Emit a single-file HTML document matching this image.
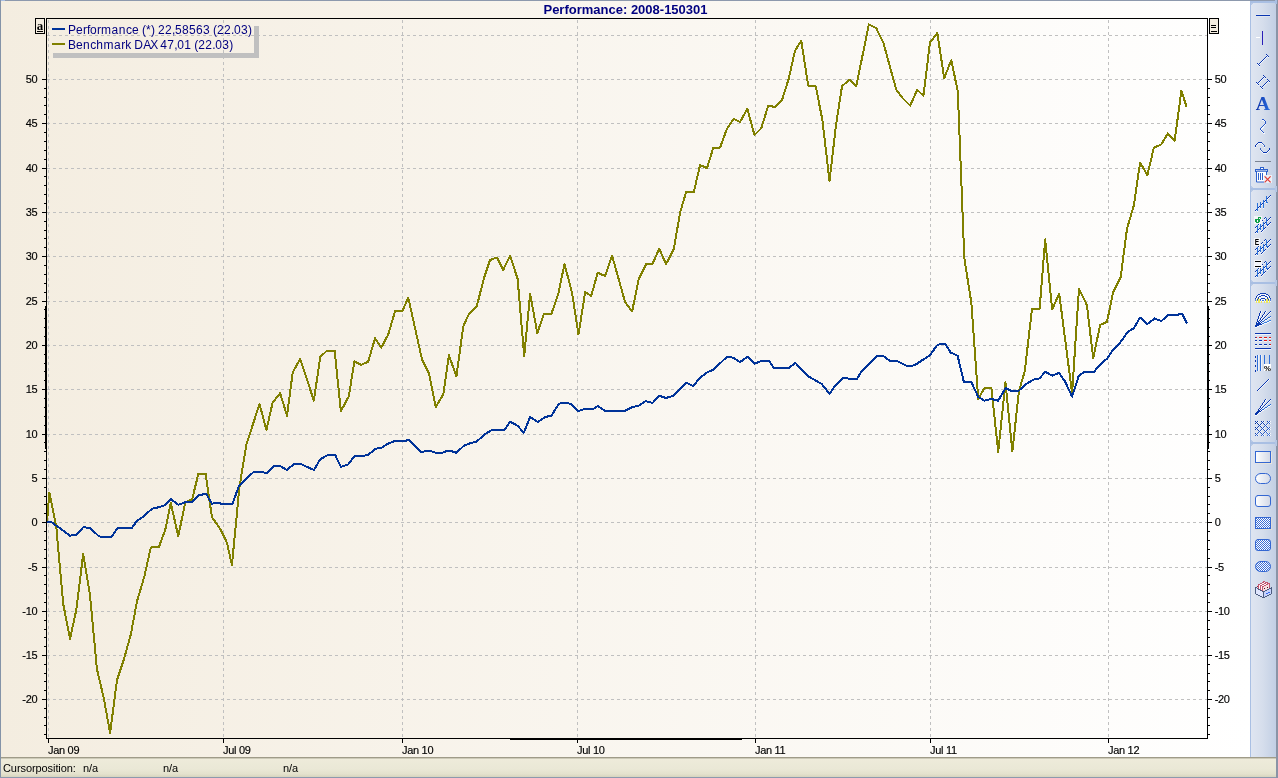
<!DOCTYPE html>
<html><head><meta charset="utf-8"><title>Performance: 2008-150301</title>
<style>
html,body{margin:0;padding:0;width:1278px;height:778px;overflow:hidden;background:#fff;}
body{position:relative;font-family:"Liberation Sans",Arial,sans-serif;}
#panel{position:absolute;left:0;top:0;width:1250px;height:757px;background:linear-gradient(to right,#f4ede0 0%,#ffffff 100%);}
#topb{position:absolute;left:0;top:0;width:1278px;height:1px;background:linear-gradient(to right,#a9bfe3 0,#a9bfe3 5px,#8d99ad 5px);}
#leftb{position:absolute;left:0;top:0;width:1px;height:778px;background:#8493a8;}
#rightb{position:absolute;left:1276px;top:0;width:2px;height:778px;background:#8a94a6;}
#botb{position:absolute;left:0;top:777px;width:1278px;height:1px;background:#8d99ad;}
#toolbar{position:absolute;left:1250px;top:1px;width:26px;height:756px;background:linear-gradient(to right,#dde4f0 0%,#d6deec 50%,#c3d0e4 100%);}
#status{position:absolute;left:1px;top:757px;width:1275px;height:20px;background:linear-gradient(to bottom,#9f9b88 0,#9f9b88 1px,#cdcab8 1px,#cdcab8 2px,#eeebda 2px,#eae8d6 12px,#e4e2cd 17px,#dbd9c3 19px,#d6d4be 20px);font-size:11px;color:#000;}
#status span{position:absolute;top:5px;white-space:nowrap;letter-spacing:-0.08px}
svg{position:absolute;left:0;top:0;}
</style></head><body>
<div id="panel"></div>
<div id="status"><span style="left:2px">Cursorposition:</span><span style="left:82px">n/a</span><span style="left:162px">n/a</span><span style="left:282px">n/a</span></div>
<div id="topb"></div><div id="leftb"></div><div id="botb"></div>
<svg width="1278" height="778" viewBox="0 0 1278 778" shape-rendering="crispEdges">
<g stroke="#c0c0c0" stroke-width="1" stroke-dasharray="3 3" fill="none">
<line x1="47" y1="35.5" x2="1207" y2="35.5"/>
<line x1="47" y1="79.5" x2="1207" y2="79.5"/>
<line x1="47" y1="123.5" x2="1207" y2="123.5"/>
<line x1="47" y1="168.5" x2="1207" y2="168.5"/>
<line x1="47" y1="212.5" x2="1207" y2="212.5"/>
<line x1="47" y1="256.5" x2="1207" y2="256.5"/>
<line x1="47" y1="301.5" x2="1207" y2="301.5"/>
<line x1="47" y1="345.5" x2="1207" y2="345.5"/>
<line x1="47" y1="389.5" x2="1207" y2="389.5"/>
<line x1="47" y1="434.5" x2="1207" y2="434.5"/>
<line x1="47" y1="478.5" x2="1207" y2="478.5"/>
<line x1="47" y1="522.5" x2="1207" y2="522.5"/>
<line x1="47" y1="567.5" x2="1207" y2="567.5"/>
<line x1="47" y1="611.5" x2="1207" y2="611.5"/>
<line x1="47" y1="655.5" x2="1207" y2="655.5"/>
<line x1="47" y1="699.5" x2="1207" y2="699.5"/>
<line x1="48.5" y1="20" x2="48.5" y2="738"/>
<line x1="223.5" y1="20" x2="223.5" y2="738"/>
<line x1="402.5" y1="20" x2="402.5" y2="738"/>
<line x1="577.5" y1="20" x2="577.5" y2="738"/>
<line x1="755.5" y1="20" x2="755.5" y2="738"/>
<line x1="930.5" y1="20" x2="930.5" y2="738"/>
<line x1="1108.5" y1="20" x2="1108.5" y2="738"/>
</g>
<polyline points="47.0,522.0 49.4,492.5 56.3,527.0 63.2,603.8 70.0,638.9 76.3,610.0 83.2,553.8 90.0,595.0 96.9,668.8 103.8,698.2 110.1,733.2 117.0,680.0 124.1,658.8 130.9,634.0 137.0,601.3 144.5,576.0 150.8,547.5 158.9,547.0 165.2,530.0 170.8,503.2 178.3,536.3 185.2,502.5 192.1,499.4 198.4,473.8 205.6,473.8 211.9,517.0 220.7,529.7 226.9,542.6 231.9,565.0 236.9,513.8 239.3,488.0 246.3,445.0 259.5,403.8 266.4,430.0 272.6,402.6 280.1,393.2 287.0,415.7 292.7,372.5 300.2,358.8 313.9,400.7 320.2,356.9 327.1,350.6 334.6,350.6 340.9,411.3 348.8,396.3 354.4,361.4 361.3,364.9 368.2,361.6 375.1,338.2 381.3,347.6 388.2,334.5 395.1,311.3 402.6,310.7 408.2,297.5 422.0,359.5 428.9,373.3 435.8,406.9 443.3,394.4 448.9,355.1 456.4,376.4 463.3,326.3 469.0,313.8 476.9,305.7 483.8,278.8 490.0,260.0 496.9,257.5 503.2,270.0 510.1,255.7 517.6,278.8 524.2,356.3 530.1,293.8 537.3,333.0 543.9,313.9 551.4,313.9 558.3,293.8 564.5,264.0 572.0,292.6 578.5,334.4 585.2,292.0 591.2,296.0 597.7,272.6 605.0,276.1 612.1,255.7 625.2,302.4 632.1,311.4 638.8,278.8 646.3,263.8 652.6,263.8 659.2,248.8 666.1,264.1 673.8,248.8 680.1,212.6 686.1,192.0 693.8,192.0 700.1,165.0 707.0,168.2 713.2,148.1 720.1,147.5 726.9,128.9 733.8,118.8 740.1,122.0 747.3,108.8 754.5,135.1 761.3,128.2 768.2,105.7 775.1,107.0 782.0,100.1 788.7,78.8 795.0,50.7 801.3,40.7 808.2,85.7 815.7,86.2 822.4,120.0 829.5,181.1 836.0,125.0 842.0,86.3 849.3,79.6 856.3,86.0 868.9,24.4 876.2,28.1 883.3,42.5 896.2,89.5 902.7,98.2 910.2,105.7 917.2,89.8 923.4,95.7 930.0,42.5 937.3,32.9 944.2,78.2 951.3,60.1 957.8,91.4 964.3,258.0 971.3,302.5 978.2,398.8 984.5,388.1 991.4,387.8 998.2,452.0 1005.5,382.5 1012.4,451.4 1018.9,391.3 1024.8,371.0 1032.0,308.8 1039.6,308.8 1045.2,239.4 1052.1,309.4 1059.2,293.8 1072.1,393.0 1079.0,288.8 1086.9,305.1 1093.2,358.2 1100.1,325.0 1107.0,321.9 1113.2,292.0 1120.7,277.0 1127.0,228.8 1133.9,205.1 1140.1,162.6 1147.4,175.1 1153.9,147.5 1161.4,144.4 1167.7,133.5 1174.6,141.0 1181.4,90.7 1186.4,106.3" fill="none" stroke="#808000" stroke-width="2" stroke-linejoin="round" stroke-linecap="round"/>
<polyline points="47.0,522.0 51.3,522.0 60.7,528.8 70.0,535.7 76.3,534.8 83.2,527.3 90.0,527.8 98.2,535.7 101.3,537.0 111.4,537.0 117.6,527.8 132.0,527.8 137.0,520.7 142.7,517.0 152.0,508.8 157.7,507.5 164.6,505.4 170.8,499.0 178.3,504.8 185.2,502.3 192.1,502.0 198.8,495.0 206.3,494.0 211.9,503.8 215.7,502.8 222.5,503.8 232.6,503.8 238.8,486.0 250.1,475.0 253.8,471.9 262.0,472.2 267.0,473.0 273.9,466.0 280.1,466.0 287.0,470.0 293.9,464.0 300.2,463.8 313.9,470.0 320.2,459.4 327.7,455.0 335.2,455.0 340.9,466.9 348.1,464.5 354.4,456.1 363.8,455.7 368.2,454.8 375.7,448.8 381.9,447.6 386.3,444.5 393.8,441.3 404.5,441.1 408.8,439.8 421.4,452.0 426.4,451.1 430.8,451.1 435.8,452.8 442.0,452.8 446.4,451.1 451.4,451.1 456.4,452.8 463.9,445.7 470.2,443.2 476.4,441.7 484.6,434.5 491.5,430.1 504.4,430.1 510.0,421.6 517.6,425.7 523.8,432.8 530.1,417.0 537.6,422.0 545.1,417.0 551.4,415.7 558.9,403.8 563.9,402.8 570.8,403.8 578.3,411.1 583.9,409.1 593.3,409.1 597.7,405.9 604.6,410.7 625.2,410.7 632.5,407.0 638.8,405.7 645.7,401.1 652.6,403.0 659.2,395.7 666.1,398.0 673.2,395.7 686.4,382.6 693.2,386.0 700.1,377.6 707.6,372.2 713.3,369.8 727.0,356.7 733.3,357.8 739.9,362.2 747.4,356.7 754.6,363.8 761.5,360.9 769.0,360.9 773.7,367.9 788.8,367.9 795.4,362.9 805.7,373.8 809.4,377.0 822.0,384.2 829.5,394.1 835.1,385.7 843.2,377.8 850.1,378.8 857.0,378.8 862.0,370.7 877.0,356.0 883.3,356.0 889.6,360.7 896.5,360.9 906.5,365.7 912.1,365.9 915.9,364.4 930.0,355.1 936.9,345.5 940.7,343.8 945.0,343.8 950.7,352.6 957.6,355.7 963.8,381.7 971.3,381.9 978.2,396.9 984.5,400.7 991.4,399.0 998.2,400.7 1005.5,388.1 1010.8,390.6 1018.9,390.6 1026.4,383.8 1033.3,379.7 1039.6,378.3 1045.2,371.8 1052.1,375.6 1059.0,372.9 1065.0,381.4 1072.1,396.6 1078.8,375.7 1085.0,371.7 1094.4,371.7 1097.6,367.0 1102.6,362.0 1107.0,358.8 1113.8,348.8 1120.7,341.9 1127.6,331.9 1133.9,328.2 1140.1,317.5 1147.4,324.0 1154.5,318.5 1161.4,321.0 1168.3,314.8 1177.1,314.8 1182.1,313.8 1186.5,322.5" fill="none" stroke="#003399" stroke-width="2" stroke-linejoin="round" stroke-linecap="round"/>
<g fill="#000">
<rect x="46" y="18" width="1162" height="1"/>
<rect x="46" y="738" width="1162" height="1"/>
<rect x="46" y="18" width="1" height="721"/>
<rect x="1207" y="18" width="1" height="721"/>
<rect x="510" y="738" width="232" height="2"/>
<rect x="45" y="306" width="2" height="143"/>
<rect x="1207" y="306" width="2" height="143"/>
<rect x="44" y="734" width="2" height="1"/><rect x="1208" y="734" width="2" height="1"/>
<rect x="44" y="725" width="2" height="1"/><rect x="1208" y="725" width="2" height="1"/>
<rect x="44" y="717" width="2" height="1"/><rect x="1208" y="717" width="2" height="1"/>
<rect x="44" y="708" width="2" height="1"/><rect x="1208" y="708" width="2" height="1"/>
<rect x="42" y="699" width="4" height="1"/><rect x="1208" y="699" width="4" height="1"/>
<rect x="44" y="690" width="2" height="1"/><rect x="1208" y="690" width="2" height="1"/>
<rect x="44" y="681" width="2" height="1"/><rect x="1208" y="681" width="2" height="1"/>
<rect x="44" y="673" width="2" height="1"/><rect x="1208" y="673" width="2" height="1"/>
<rect x="44" y="664" width="2" height="1"/><rect x="1208" y="664" width="2" height="1"/>
<rect x="42" y="655" width="4" height="1"/><rect x="1208" y="655" width="4" height="1"/>
<rect x="44" y="646" width="2" height="1"/><rect x="1208" y="646" width="2" height="1"/>
<rect x="44" y="637" width="2" height="1"/><rect x="1208" y="637" width="2" height="1"/>
<rect x="44" y="629" width="2" height="1"/><rect x="1208" y="629" width="2" height="1"/>
<rect x="44" y="620" width="2" height="1"/><rect x="1208" y="620" width="2" height="1"/>
<rect x="42" y="611" width="4" height="1"/><rect x="1208" y="611" width="4" height="1"/>
<rect x="44" y="602" width="2" height="1"/><rect x="1208" y="602" width="2" height="1"/>
<rect x="44" y="593" width="2" height="1"/><rect x="1208" y="593" width="2" height="1"/>
<rect x="44" y="584" width="2" height="1"/><rect x="1208" y="584" width="2" height="1"/>
<rect x="44" y="575" width="2" height="1"/><rect x="1208" y="575" width="2" height="1"/>
<rect x="42" y="567" width="4" height="1"/><rect x="1208" y="567" width="4" height="1"/>
<rect x="44" y="558" width="2" height="1"/><rect x="1208" y="558" width="2" height="1"/>
<rect x="44" y="549" width="2" height="1"/><rect x="1208" y="549" width="2" height="1"/>
<rect x="44" y="540" width="2" height="1"/><rect x="1208" y="540" width="2" height="1"/>
<rect x="44" y="531" width="2" height="1"/><rect x="1208" y="531" width="2" height="1"/>
<rect x="42" y="522" width="4" height="1"/><rect x="1208" y="522" width="4" height="1"/>
<rect x="44" y="513" width="2" height="1"/><rect x="1208" y="513" width="2" height="1"/>
<rect x="44" y="504" width="2" height="1"/><rect x="1208" y="504" width="2" height="1"/>
<rect x="44" y="496" width="2" height="1"/><rect x="1208" y="496" width="2" height="1"/>
<rect x="44" y="487" width="2" height="1"/><rect x="1208" y="487" width="2" height="1"/>
<rect x="42" y="478" width="4" height="1"/><rect x="1208" y="478" width="4" height="1"/>
<rect x="44" y="469" width="2" height="1"/><rect x="1208" y="469" width="2" height="1"/>
<rect x="44" y="460" width="2" height="1"/><rect x="1208" y="460" width="2" height="1"/>
<rect x="44" y="451" width="2" height="1"/><rect x="1208" y="451" width="2" height="1"/>
<rect x="44" y="442" width="2" height="1"/><rect x="1208" y="442" width="2" height="1"/>
<rect x="42" y="434" width="4" height="1"/><rect x="1208" y="434" width="4" height="1"/>
<rect x="44" y="425" width="2" height="1"/><rect x="1208" y="425" width="2" height="1"/>
<rect x="44" y="416" width="2" height="1"/><rect x="1208" y="416" width="2" height="1"/>
<rect x="44" y="407" width="2" height="1"/><rect x="1208" y="407" width="2" height="1"/>
<rect x="44" y="398" width="2" height="1"/><rect x="1208" y="398" width="2" height="1"/>
<rect x="42" y="389" width="4" height="1"/><rect x="1208" y="389" width="4" height="1"/>
<rect x="44" y="380" width="2" height="1"/><rect x="1208" y="380" width="2" height="1"/>
<rect x="44" y="371" width="2" height="1"/><rect x="1208" y="371" width="2" height="1"/>
<rect x="44" y="363" width="2" height="1"/><rect x="1208" y="363" width="2" height="1"/>
<rect x="44" y="354" width="2" height="1"/><rect x="1208" y="354" width="2" height="1"/>
<rect x="42" y="345" width="4" height="1"/><rect x="1208" y="345" width="4" height="1"/>
<rect x="44" y="336" width="2" height="1"/><rect x="1208" y="336" width="2" height="1"/>
<rect x="44" y="327" width="2" height="1"/><rect x="1208" y="327" width="2" height="1"/>
<rect x="44" y="318" width="2" height="1"/><rect x="1208" y="318" width="2" height="1"/>
<rect x="44" y="309" width="2" height="1"/><rect x="1208" y="309" width="2" height="1"/>
<rect x="42" y="301" width="4" height="1"/><rect x="1208" y="301" width="4" height="1"/>
<rect x="44" y="292" width="2" height="1"/><rect x="1208" y="292" width="2" height="1"/>
<rect x="44" y="283" width="2" height="1"/><rect x="1208" y="283" width="2" height="1"/>
<rect x="44" y="274" width="2" height="1"/><rect x="1208" y="274" width="2" height="1"/>
<rect x="44" y="265" width="2" height="1"/><rect x="1208" y="265" width="2" height="1"/>
<rect x="42" y="256" width="4" height="1"/><rect x="1208" y="256" width="4" height="1"/>
<rect x="44" y="247" width="2" height="1"/><rect x="1208" y="247" width="2" height="1"/>
<rect x="44" y="238" width="2" height="1"/><rect x="1208" y="238" width="2" height="1"/>
<rect x="44" y="230" width="2" height="1"/><rect x="1208" y="230" width="2" height="1"/>
<rect x="44" y="221" width="2" height="1"/><rect x="1208" y="221" width="2" height="1"/>
<rect x="42" y="212" width="4" height="1"/><rect x="1208" y="212" width="4" height="1"/>
<rect x="44" y="203" width="2" height="1"/><rect x="1208" y="203" width="2" height="1"/>
<rect x="44" y="194" width="2" height="1"/><rect x="1208" y="194" width="2" height="1"/>
<rect x="44" y="185" width="2" height="1"/><rect x="1208" y="185" width="2" height="1"/>
<rect x="44" y="176" width="2" height="1"/><rect x="1208" y="176" width="2" height="1"/>
<rect x="42" y="168" width="4" height="1"/><rect x="1208" y="168" width="4" height="1"/>
<rect x="44" y="159" width="2" height="1"/><rect x="1208" y="159" width="2" height="1"/>
<rect x="44" y="150" width="2" height="1"/><rect x="1208" y="150" width="2" height="1"/>
<rect x="44" y="141" width="2" height="1"/><rect x="1208" y="141" width="2" height="1"/>
<rect x="44" y="132" width="2" height="1"/><rect x="1208" y="132" width="2" height="1"/>
<rect x="42" y="123" width="4" height="1"/><rect x="1208" y="123" width="4" height="1"/>
<rect x="44" y="114" width="2" height="1"/><rect x="1208" y="114" width="2" height="1"/>
<rect x="44" y="105" width="2" height="1"/><rect x="1208" y="105" width="2" height="1"/>
<rect x="44" y="97" width="2" height="1"/><rect x="1208" y="97" width="2" height="1"/>
<rect x="44" y="88" width="2" height="1"/><rect x="1208" y="88" width="2" height="1"/>
<rect x="42" y="79" width="4" height="1"/><rect x="1208" y="79" width="4" height="1"/>
<rect x="48" y="739" width="1" height="4"/>
<rect x="223" y="739" width="1" height="4"/>
<rect x="402" y="739" width="1" height="4"/>
<rect x="577" y="739" width="1" height="4"/>
<rect x="755" y="739" width="1" height="4"/>
<rect x="930" y="739" width="1" height="4"/>
<rect x="1108" y="739" width="1" height="4"/>
</g>
<g font-family="'Liberation Sans', Arial, sans-serif" font-size="11" fill="#000" stroke="#000" stroke-width="0.15" letter-spacing="-0.3">
<text x="37.3" y="83" text-anchor="end">50</text>
<text x="1214.7" y="83">50</text>
<text x="37.3" y="127" text-anchor="end">45</text>
<text x="1214.7" y="127">45</text>
<text x="37.3" y="172" text-anchor="end">40</text>
<text x="1214.7" y="172">40</text>
<text x="37.3" y="216" text-anchor="end">35</text>
<text x="1214.7" y="216">35</text>
<text x="37.3" y="260" text-anchor="end">30</text>
<text x="1214.7" y="260">30</text>
<text x="37.3" y="305" text-anchor="end">25</text>
<text x="1214.7" y="305">25</text>
<text x="37.3" y="349" text-anchor="end">20</text>
<text x="1214.7" y="349">20</text>
<text x="37.3" y="393" text-anchor="end">15</text>
<text x="1214.7" y="393">15</text>
<text x="37.3" y="438" text-anchor="end">10</text>
<text x="1214.7" y="438">10</text>
<text x="37.3" y="482" text-anchor="end">5</text>
<text x="1214.7" y="482">5</text>
<text x="37.3" y="526" text-anchor="end">0</text>
<text x="1214.7" y="526">0</text>
<text x="37.3" y="571" text-anchor="end">-5</text>
<text x="1214.7" y="571">-5</text>
<text x="37.3" y="615" text-anchor="end">-10</text>
<text x="1214.7" y="615">-10</text>
<text x="37.3" y="659" text-anchor="end">-15</text>
<text x="1214.7" y="659">-15</text>
<text x="37.3" y="703" text-anchor="end">-20</text>
<text x="1214.7" y="703">-20</text>
<text x="48" y="754">Jan 09</text>
<text x="223" y="754">Jul 09</text>
<text x="402" y="754">Jan 10</text>
<text x="577" y="754">Jul 10</text>
<text x="755" y="754">Jan 11</text>
<text x="930" y="754">Jul 11</text>
<text x="1108" y="754">Jan 12</text>
</g>
<text x="625.5" y="14" text-anchor="middle" font-family="'Liberation Sans', Arial, sans-serif" font-size="13" font-weight="bold" fill="#000080">Performance: 2008-150301</text>
<g>
<rect x="254" y="26" width="5" height="32" fill="#c0c0c0"/><rect x="53" y="53" width="206" height="5" fill="#c0c0c0"/>
<rect x="52" y="28" width="13" height="2" fill="#003399"/><rect x="52" y="43" width="13" height="2" fill="#808000"/>
<g font-family="'Liberation Sans', Arial, sans-serif" font-size="12" fill="#000080">
<text x="68 76 83 87 90 97 101 111.4 118.7 126.0 132.0 139.0 142.0 146.0 151.0 155.0 158.0 165.0 172.0 175.0 182.0 189.0 196.0 203.0 210.0 213.0 217.0 224.0 231.0 234.0 241.0 248.0" y="34">Performance (*) 22,58563 (22.03)</text>
<text x="68 76 83 90.3 96.3 103.6 114.0 121.3 125.3 131.3 134.3 143.3 150.3 157.3 160.3 167.3 174.3 177.3 184.3 191.3 194.3 198.3 205.3 212.3 215.3 222.3 229.3" y="49">Benchmark DAX 47,01 (22.03)</text>
</g></g>
<g><rect x="35.5" y="18.5" width="9" height="15" fill="none" stroke="#000"/>
<text x="40" y="30" text-anchor="middle" font-family="'Liberation Serif', serif" font-weight="bold" font-size="13" fill="#000">a</text><rect x="37" y="31" width="6" height="1" fill="#000"/>
<rect x="1209.5" y="18.5" width="9" height="15" fill="#f4ede0" stroke="#000"/>
<rect x="1211" y="25" width="5" height="1" fill="#000"/><rect x="1211" y="27" width="5" height="1" fill="#000"/><rect x="1211" y="31" width="6" height="1" fill="#000"/></g>
<defs>
<linearGradient id="tbg" x1="0" y1="0" x2="1" y2="0"><stop offset="0" stop-color="#dfe5f1"/><stop offset="0.45" stop-color="#d6deec"/><stop offset="1" stop-color="#c2cfe4"/></linearGradient>
<linearGradient id="shp" x1="0" y1="0" x2="1" y2="0"><stop offset="0" stop-color="#ffffff"/><stop offset="1" stop-color="#d2d8e6"/></linearGradient>
<pattern id="chk" x="0" y="0" width="2" height="2" patternUnits="userSpaceOnUse"><rect width="2" height="2" fill="#ffffff"/><rect x="0" y="0" width="1" height="1" fill="#3d6fd6"/><rect x="1" y="1" width="1" height="1" fill="#3d6fd6"/></pattern>
</defs>
<g shape-rendering="crispEdges">
<rect x="1250" y="1" width="26" height="756" fill="#a9bfe3"/>
<rect x="1251" y="3" width="25" height="185" fill="url(#tbg)"/>
<rect x="1251" y="3" width="2" height="1" fill="#b9cae6"/><rect x="1251" y="4" width="1" height="1" fill="#b9cae6"/>
<rect x="1251" y="187" width="2" height="1" fill="#b9cae6"/><rect x="1251" y="186" width="1" height="1" fill="#b9cae6"/>
<rect x="1251" y="190" width="25" height="92" fill="url(#tbg)"/>
<rect x="1251" y="190" width="2" height="1" fill="#b9cae6"/><rect x="1251" y="191" width="1" height="1" fill="#b9cae6"/>
<rect x="1251" y="281" width="2" height="1" fill="#b9cae6"/><rect x="1251" y="280" width="1" height="1" fill="#b9cae6"/>
<rect x="1251" y="284" width="25" height="158" fill="url(#tbg)"/>
<rect x="1251" y="284" width="2" height="1" fill="#b9cae6"/><rect x="1251" y="285" width="1" height="1" fill="#b9cae6"/>
<rect x="1251" y="441" width="2" height="1" fill="#b9cae6"/><rect x="1251" y="440" width="1" height="1" fill="#b9cae6"/>
<rect x="1251" y="444" width="25" height="313" fill="url(#tbg)"/>
<rect x="1251" y="444" width="2" height="1" fill="#b9cae6"/><rect x="1251" y="445" width="1" height="1" fill="#b9cae6"/>
<rect x="1276" y="0" width="2" height="778" fill="#8a94a6"/>
<rect x="1275" y="186" width="2" height="6" fill="#b4c6e4"/>
<rect x="1275" y="280" width="2" height="6" fill="#b4c6e4"/>
<rect x="1275" y="440" width="2" height="6" fill="#b4c6e4"/>
<rect x="1275" y="0" width="2" height="4" fill="#a9bfe3"/>
<rect x="1256" y="15" width="14" height="1" fill="#0a36b0"/>
<rect x="1256" y="14" width="14" height="1" fill="#e4e9f4" opacity="0.7"/><rect x="1256" y="16" width="14" height="1" fill="#e4e9f4" opacity="0.7"/>
<rect x="1256" y="37" width="4" height="1" fill="#ffffff"/>
<rect x="1262" y="31" width="1" height="14" fill="#2a1fb8"/>
<rect x="1255" y="161" width="16" height="1" fill="#7b8494"/>
<rect x="1255" y="333" width="16" height="1" fill="#0a36b0"/><rect x="1255" y="334" width="16" height="1" fill="#f4f6fb"/>
<rect x="1255" y="348" width="16" height="1" fill="#0a36b0"/><rect x="1255" y="349" width="16" height="1" fill="#f4f6fb"/>
<rect x="1255" y="337" width="1" height="1" fill="#0a36b0"/><rect x="1255" y="338" width="1" height="1" fill="#f4f6fb"/>
<rect x="1256" y="337" width="1" height="1" fill="#e01818"/><rect x="1256" y="338" width="1" height="1" fill="#f4f6fb"/>
<rect x="1259" y="337" width="3" height="1" fill="#e01818"/><rect x="1259" y="338" width="3" height="1" fill="#f4f6fb"/>
<rect x="1264" y="337" width="3" height="1" fill="#e01818"/><rect x="1264" y="338" width="3" height="1" fill="#f4f6fb"/>
<rect x="1269" y="337" width="2" height="1" fill="#e01818"/><rect x="1269" y="338" width="2" height="1" fill="#f4f6fb"/>
<rect x="1255" y="340" width="2" height="1" fill="#0a36b0"/><rect x="1255" y="341" width="2" height="1" fill="#f4f6fb"/>
<rect x="1259" y="340" width="3" height="1" fill="#0a36b0"/><rect x="1259" y="341" width="3" height="1" fill="#f4f6fb"/>
<rect x="1264" y="340" width="3" height="1" fill="#e01818"/><rect x="1264" y="341" width="3" height="1" fill="#f4f6fb"/>
<rect x="1269" y="340" width="2" height="1" fill="#e01818"/><rect x="1269" y="341" width="2" height="1" fill="#f4f6fb"/>
<rect x="1255" y="344" width="2" height="1" fill="#0a36b0"/><rect x="1255" y="345" width="2" height="1" fill="#f4f6fb"/>
<rect x="1259" y="344" width="3" height="1" fill="#0a36b0"/><rect x="1259" y="345" width="3" height="1" fill="#f4f6fb"/>
<rect x="1264" y="344" width="3" height="1" fill="#0a36b0"/><rect x="1264" y="345" width="3" height="1" fill="#f4f6fb"/>
<rect x="1269" y="344" width="1" height="1" fill="#0a36b0"/><rect x="1269" y="345" width="1" height="1" fill="#f4f6fb"/>
<rect x="1270" y="344" width="1" height="1" fill="#e01818"/><rect x="1270" y="345" width="1" height="1" fill="#f4f6fb"/>
<rect x="1255" y="356" width="1" height="1.6" fill="#0a36b0"/>
<rect x="1255" y="360" width="1" height="1.6" fill="#0a36b0"/>
<rect x="1255" y="365" width="1" height="1.6" fill="#0a36b0"/>
<rect x="1255" y="370" width="1" height="1.6" fill="#0a36b0"/>
<rect x="1257" y="355" width="1" height="16" fill="#2f6fd8"/><rect x="1260" y="355" width="1" height="16" fill="#2f6fd8"/>
<rect x="1264" y="355" width="1" height="9" fill="#2f6fd8"/><rect x="1269" y="355" width="1" height="9" fill="#2f6fd8"/>
<rect x="1258" y="355" width="1" height="16" fill="#eef1f8"/><rect x="1261" y="355" width="1" height="16" fill="#eef1f8"/>
<rect x="1264" y="364" width="7" height="7" fill="#ffffff"/>
</g>
<g shape-rendering="auto" fill="none" stroke-linecap="square">
<text x="1263.9" y="370.6" textLength="7" lengthAdjust="spacingAndGlyphs" font-family="'Liberation Sans', Arial, sans-serif" font-weight="bold" font-size="8" fill="#000" stroke="none">%</text>
<path d="M1257 64h1v1h-1z M1258 65h1v1h-1z M1259 66h1v1h-1z M1258 65h1v1h-1z M1259 64h1v1h-1z M1260 63h1v1h-1z M1261 62h1v1h-1z M1262 61h1v1h-1z M1263 60h1v1h-1z M1264 59h1v1h-1z M1265 58h1v1h-1z M1266 57h1v1h-1z M1267 56h1v1h-1z M1266 55h1v1h-1z M1267 56h1v1h-1z M1268 57h1v1h-1z" fill="#f6f8fc" stroke="none" shape-rendering="crispEdges"/>
<path d="M1257 63h1v1h-1z M1258 64h1v1h-1z M1259 65h1v1h-1z M1258 64h1v1h-1z M1259 63h1v1h-1z M1260 62h1v1h-1z M1261 61h1v1h-1z M1262 60h1v1h-1z M1263 59h1v1h-1z M1264 58h1v1h-1z M1265 57h1v1h-1z M1266 56h1v1h-1z M1267 55h1v1h-1z M1266 54h1v1h-1z M1267 55h1v1h-1z M1268 56h1v1h-1z" fill="#0a36b0" stroke="none" shape-rendering="crispEdges"/>
<path d="M1256 83h1v1h-1z M1257 84h1v1h-1z M1258 85h1v1h-1z M1257 84h1v1h-1z M1258 83h1v1h-1z M1259 82h1v1h-1z M1260 81h1v1h-1z M1261 80h1v1h-1z M1262 79h1v1h-1z M1263 78h1v1h-1z M1264 77h1v1h-1z M1263 76h1v1h-1z M1264 77h1v1h-1z M1265 78h1v1h-1z M1260 87h1v1h-1z M1261 88h1v1h-1z M1262 89h1v1h-1z M1261 88h1v1h-1z M1262 87h1v1h-1z M1263 86h1v1h-1z M1264 85h1v1h-1z M1265 84h1v1h-1z M1266 83h1v1h-1z M1267 82h1v1h-1z M1268 81h1v1h-1z M1267 80h1v1h-1z M1268 81h1v1h-1z M1269 82h1v1h-1z" fill="#f6f8fc" stroke="none" shape-rendering="crispEdges"/>
<path d="M1256 82h1v1h-1z M1257 83h1v1h-1z M1258 84h1v1h-1z M1257 83h1v1h-1z M1258 82h1v1h-1z M1259 81h1v1h-1z M1260 80h1v1h-1z M1261 79h1v1h-1z M1262 78h1v1h-1z M1263 77h1v1h-1z M1264 76h1v1h-1z M1263 75h1v1h-1z M1264 76h1v1h-1z M1265 77h1v1h-1z M1260 86h1v1h-1z M1261 87h1v1h-1z M1262 88h1v1h-1z M1261 87h1v1h-1z M1262 86h1v1h-1z M1263 85h1v1h-1z M1264 84h1v1h-1z M1265 83h1v1h-1z M1266 82h1v1h-1z M1267 81h1v1h-1z M1268 80h1v1h-1z M1267 79h1v1h-1z M1268 80h1v1h-1z M1269 81h1v1h-1z" fill="#0a36b0" stroke="none" shape-rendering="crispEdges"/>
<linearGradient id="ag" x1="0" y1="0" x2="1" y2="0"><stop offset="0" stop-color="#0a2ea6"/><stop offset="1" stop-color="#2a6ee0"/></linearGradient>
<text x="1255.8" y="110" textLength="14.2" lengthAdjust="spacingAndGlyphs" font-family="'Liberation Serif', 'DejaVu Serif', serif" font-weight="bold" font-size="18" fill="url(#ag)" stroke="none">A</text>
<path d="M1262 120h1v1h-1z M1263 120h1v1h-1z M1264 121h1v1h-1z M1265 122h1v1h-1z M1265 123h1v1h-1z M1265 124h1v1h-1z M1264 125h1v1h-1z M1263 126h1v1h-1z M1262 127h1v1h-1z M1261 128h1v1h-1z M1260 129h1v1h-1z M1260 130h1v1h-1z M1261 131h1v1h-1z M1262 132h1v1h-1z M1263 133h1v1h-1z M1263 127h1v1h-1z M1262 128h1v1h-1z M1261 129h1v1h-1z M1261 130h1v1h-1z M1262 131h1v1h-1z M1263 132h1v1h-1z M1264 133h1v1h-1z" fill="#f6f8fc" stroke="none" shape-rendering="crispEdges"/>
<path d="M1262 119h1v1h-1z M1263 119h1v1h-1z M1264 120h1v1h-1z M1265 121h1v1h-1z M1265 122h1v1h-1z M1265 123h1v1h-1z M1264 124h1v1h-1z M1263 125h1v1h-1z M1262 126h1v1h-1z M1261 127h1v1h-1z M1260 128h1v1h-1z M1260 129h1v1h-1z M1261 130h1v1h-1z M1262 131h1v1h-1z M1263 132h1v1h-1z" fill="#2456c8" stroke="none" shape-rendering="crispEdges"/>
<path d="M1255 146h1v1h-1z M1255 147h1v1h-1z M1256 145h1v1h-1z M1257 144h1v1h-1z M1258 143h1v1h-1z M1259 143h1v1h-1z M1260 143h1v1h-1z M1261 143h1v1h-1z M1262 144h1v1h-1z M1263 145h1v1h-1z M1264 146h1v1h-1z M1264 147h1v1h-1z M1260 149h1v1h-1z M1260 150h1v1h-1z M1261 151h1v1h-1z M1262 152h1v1h-1z M1263 153h1v1h-1z M1264 153h1v1h-1z M1265 153h1v1h-1z M1266 153h1v1h-1z M1267 152h1v1h-1z M1268 151h1v1h-1z M1269 149h1v1h-1z M1269 150h1v1h-1z" fill="#f6f8fc" stroke="none" shape-rendering="crispEdges"/>
<path d="M1255 145h1v1h-1z M1255 146h1v1h-1z M1256 144h1v1h-1z M1257 143h1v1h-1z M1258 142h1v1h-1z M1259 142h1v1h-1z M1260 142h1v1h-1z M1261 142h1v1h-1z M1263 152h1v1h-1z M1264 152h1v1h-1z M1265 152h1v1h-1z M1266 152h1v1h-1z M1267 151h1v1h-1z M1268 150h1v1h-1z M1269 148h1v1h-1z M1269 149h1v1h-1z" fill="#0a36b0" stroke="none" shape-rendering="crispEdges"/>
<path d="M1262 143h1v1h-1z M1263 144h1v1h-1z M1264 145h1v1h-1z M1264 146h1v1h-1z M1260 148h1v1h-1z M1260 149h1v1h-1z M1261 150h1v1h-1z M1262 151h1v1h-1z" fill="#3a64c4" stroke="none" shape-rendering="crispEdges"/>
<rect x="1260.5" y="167.5" width="3" height="2" fill="#fff" stroke="#2f62cc" stroke-width="1"/>
<rect x="1255.5" y="169.5" width="12" height="2" fill="#fff" stroke="#2f62cc" stroke-width="1"/>
<path d="M1256.5 171.5 L1256.5 182 L1266.5 182 L1266.5 171.5 Z" fill="#fff" stroke="#2f62cc" stroke-width="1"/>
<path d="M1258.5 173 V180 M1260.5 173 V180 M1262.5 173 V180" stroke="#2f62cc" stroke-width="1" stroke-linecap="butt" shape-rendering="crispEdges"/>
<rect x="1264" y="175" width="8" height="8" fill="#eef1f8" opacity="0.95" stroke="none"/>
<path d="M1264.6 176.3 L1270.6 182.3 M1270.6 176.3 L1264.6 182.3" stroke="#e23a32" stroke-width="1.2" stroke-linecap="butt"/>
<path d="M1255 211h1v1h-1z M1256 210h1v1h-1z M1258 208h1v1h-1z M1259 207h1v1h-1z M1261 205h1v1h-1z M1262 204h1v1h-1z M1264 202h1v1h-1z M1265 201h1v1h-1z M1267 199h1v1h-1z M1268 198h1v1h-1z M1269 197h1v1h-1z M1270 196h1v1h-1z" fill="#f6f8fc" stroke="none" shape-rendering="crispEdges"/>
<path d="M1257 211h1v1h-1z M1260 208h1v1h-1z M1263 208h1v1h-1z M1266 203h1v1h-1z" fill="#f6f8fc" stroke="none" shape-rendering="crispEdges"/>
<path d="M1257 203h1v1h-1z M1257 204h1v1h-1z M1257 205h1v1h-1z M1257 206h1v1h-1z M1257 207h1v1h-1z M1257 208h1v1h-1z M1257 209h1v1h-1z M1257 210h1v1h-1z M1260 202h1v1h-1z M1260 203h1v1h-1z M1260 204h1v1h-1z M1260 205h1v1h-1z M1260 206h1v1h-1z M1260 207h1v1h-1z M1263 200h1v1h-1z M1263 201h1v1h-1z M1263 202h1v1h-1z M1263 203h1v1h-1z M1263 204h1v1h-1z M1263 205h1v1h-1z M1263 206h1v1h-1z M1263 207h1v1h-1z M1266 196h1v1h-1z M1266 197h1v1h-1z M1266 198h1v1h-1z M1266 199h1v1h-1z M1266 200h1v1h-1z M1266 201h1v1h-1z M1266 202h1v1h-1z" fill="#2a72da" stroke="none" shape-rendering="crispEdges"/>
<path d="M1267 202h1v1h-1z" fill="#2a72da" stroke="none" shape-rendering="crispEdges"/>
<path d="M1255 210h1v1h-1z M1256 209h1v1h-1z M1258 207h1v1h-1z M1259 206h1v1h-1z M1261 204h1v1h-1z M1262 203h1v1h-1z M1264 201h1v1h-1z M1265 200h1v1h-1z M1267 198h1v1h-1z M1268 197h1v1h-1z M1269 196h1v1h-1z M1270 195h1v1h-1z" fill="#0a36b0" stroke="none" shape-rendering="crispEdges"/>
<path d="M1255 233h1v1h-1z M1256 232h1v1h-1z M1258 230h1v1h-1z M1259 229h1v1h-1z M1261 227h1v1h-1z M1262 226h1v1h-1z M1264 224h1v1h-1z M1265 223h1v1h-1z M1267 221h1v1h-1z M1268 220h1v1h-1z M1269 219h1v1h-1z M1270 218h1v1h-1z M1255 228h1v1h-1z M1256 227h1v1h-1z M1258 225h1v1h-1z M1259 224h1v1h-1z M1261 222h1v1h-1z M1262 221h1v1h-1z M1264 219h1v1h-1z M1265 218h1v1h-1z M1261 232h1v1h-1z M1262 231h1v1h-1z M1264 229h1v1h-1z M1265 228h1v1h-1z M1267 226h1v1h-1z M1268 225h1v1h-1z M1269 224h1v1h-1z M1270 223h1v1h-1z" fill="#f6f8fc" stroke="none" shape-rendering="crispEdges"/>
<path d="M1257 233h1v1h-1z M1260 230h1v1h-1z M1263 230h1v1h-1z M1266 225h1v1h-1z" fill="#f6f8fc" stroke="none" shape-rendering="crispEdges"/>
<path d="M1257 225h1v1h-1z M1257 226h1v1h-1z M1257 227h1v1h-1z M1257 228h1v1h-1z M1257 229h1v1h-1z M1257 230h1v1h-1z M1257 231h1v1h-1z M1257 232h1v1h-1z M1260 224h1v1h-1z M1260 225h1v1h-1z M1260 226h1v1h-1z M1260 227h1v1h-1z M1260 228h1v1h-1z M1260 229h1v1h-1z M1263 222h1v1h-1z M1263 223h1v1h-1z M1263 224h1v1h-1z M1263 225h1v1h-1z M1263 226h1v1h-1z M1263 227h1v1h-1z M1263 228h1v1h-1z M1263 229h1v1h-1z M1266 218h1v1h-1z M1266 219h1v1h-1z M1266 220h1v1h-1z M1266 221h1v1h-1z M1266 222h1v1h-1z M1266 223h1v1h-1z M1266 224h1v1h-1z" fill="#2a72da" stroke="none" shape-rendering="crispEdges"/>
<path d="M1267 224h1v1h-1z" fill="#2a72da" stroke="none" shape-rendering="crispEdges"/>
<path d="M1255 232h1v1h-1z M1256 231h1v1h-1z M1258 229h1v1h-1z M1259 228h1v1h-1z M1261 226h1v1h-1z M1262 225h1v1h-1z M1264 223h1v1h-1z M1265 222h1v1h-1z M1267 220h1v1h-1z M1268 219h1v1h-1z M1269 218h1v1h-1z M1270 217h1v1h-1z M1255 227h1v1h-1z M1256 226h1v1h-1z M1258 224h1v1h-1z M1259 223h1v1h-1z M1261 221h1v1h-1z M1262 220h1v1h-1z M1264 218h1v1h-1z M1265 217h1v1h-1z M1261 231h1v1h-1z M1262 230h1v1h-1z M1264 228h1v1h-1z M1265 227h1v1h-1z M1267 225h1v1h-1z M1268 224h1v1h-1z M1269 223h1v1h-1z M1270 222h1v1h-1z" fill="#0a36b0" stroke="none" shape-rendering="crispEdges"/>
<path d="M1255 255h1v1h-1z M1256 254h1v1h-1z M1258 252h1v1h-1z M1259 251h1v1h-1z M1261 249h1v1h-1z M1262 248h1v1h-1z M1264 246h1v1h-1z M1265 245h1v1h-1z M1267 243h1v1h-1z M1268 242h1v1h-1z M1269 241h1v1h-1z M1270 240h1v1h-1z M1255 250h1v1h-1z M1256 249h1v1h-1z M1258 247h1v1h-1z M1259 246h1v1h-1z M1261 244h1v1h-1z M1262 243h1v1h-1z M1264 241h1v1h-1z M1265 240h1v1h-1z M1261 254h1v1h-1z M1262 253h1v1h-1z M1264 251h1v1h-1z M1265 250h1v1h-1z M1267 248h1v1h-1z M1268 247h1v1h-1z M1269 246h1v1h-1z M1270 245h1v1h-1z" fill="#f6f8fc" stroke="none" shape-rendering="crispEdges"/>
<path d="M1257 255h1v1h-1z M1260 252h1v1h-1z M1263 252h1v1h-1z M1266 247h1v1h-1z" fill="#f6f8fc" stroke="none" shape-rendering="crispEdges"/>
<path d="M1257 247h1v1h-1z M1257 248h1v1h-1z M1257 249h1v1h-1z M1257 250h1v1h-1z M1257 251h1v1h-1z M1257 252h1v1h-1z M1257 253h1v1h-1z M1257 254h1v1h-1z M1260 246h1v1h-1z M1260 247h1v1h-1z M1260 248h1v1h-1z M1260 249h1v1h-1z M1260 250h1v1h-1z M1260 251h1v1h-1z M1263 244h1v1h-1z M1263 245h1v1h-1z M1263 246h1v1h-1z M1263 247h1v1h-1z M1263 248h1v1h-1z M1263 249h1v1h-1z M1263 250h1v1h-1z M1263 251h1v1h-1z M1266 240h1v1h-1z M1266 241h1v1h-1z M1266 242h1v1h-1z M1266 243h1v1h-1z M1266 244h1v1h-1z M1266 245h1v1h-1z M1266 246h1v1h-1z" fill="#2a72da" stroke="none" shape-rendering="crispEdges"/>
<path d="M1267 246h1v1h-1z" fill="#2a72da" stroke="none" shape-rendering="crispEdges"/>
<path d="M1255 254h1v1h-1z M1256 253h1v1h-1z M1258 251h1v1h-1z M1259 250h1v1h-1z M1261 248h1v1h-1z M1262 247h1v1h-1z M1264 245h1v1h-1z M1265 244h1v1h-1z M1267 242h1v1h-1z M1268 241h1v1h-1z M1269 240h1v1h-1z M1270 239h1v1h-1z M1255 249h1v1h-1z M1256 248h1v1h-1z M1258 246h1v1h-1z M1259 245h1v1h-1z M1261 243h1v1h-1z M1262 242h1v1h-1z M1264 240h1v1h-1z M1265 239h1v1h-1z M1261 253h1v1h-1z M1262 252h1v1h-1z M1264 250h1v1h-1z M1265 249h1v1h-1z M1267 247h1v1h-1z M1268 246h1v1h-1z M1269 245h1v1h-1z M1270 244h1v1h-1z" fill="#0a36b0" stroke="none" shape-rendering="crispEdges"/>
<path d="M1255 277h1v1h-1z M1256 276h1v1h-1z M1258 274h1v1h-1z M1259 273h1v1h-1z M1261 271h1v1h-1z M1262 270h1v1h-1z M1264 268h1v1h-1z M1265 267h1v1h-1z M1267 265h1v1h-1z M1268 264h1v1h-1z M1269 263h1v1h-1z M1270 262h1v1h-1z M1255 272h1v1h-1z M1256 271h1v1h-1z M1258 269h1v1h-1z M1259 268h1v1h-1z M1261 266h1v1h-1z M1262 265h1v1h-1z M1264 263h1v1h-1z M1265 262h1v1h-1z M1261 276h1v1h-1z M1262 275h1v1h-1z M1264 273h1v1h-1z M1265 272h1v1h-1z M1267 270h1v1h-1z M1268 269h1v1h-1z M1269 268h1v1h-1z M1270 267h1v1h-1z" fill="#f6f8fc" stroke="none" shape-rendering="crispEdges"/>
<path d="M1257 277h1v1h-1z M1260 274h1v1h-1z M1263 274h1v1h-1z M1266 269h1v1h-1z" fill="#f6f8fc" stroke="none" shape-rendering="crispEdges"/>
<path d="M1257 269h1v1h-1z M1257 270h1v1h-1z M1257 271h1v1h-1z M1257 272h1v1h-1z M1257 273h1v1h-1z M1257 274h1v1h-1z M1257 275h1v1h-1z M1257 276h1v1h-1z M1260 268h1v1h-1z M1260 269h1v1h-1z M1260 270h1v1h-1z M1260 271h1v1h-1z M1260 272h1v1h-1z M1260 273h1v1h-1z M1263 266h1v1h-1z M1263 267h1v1h-1z M1263 268h1v1h-1z M1263 269h1v1h-1z M1263 270h1v1h-1z M1263 271h1v1h-1z M1263 272h1v1h-1z M1263 273h1v1h-1z M1266 262h1v1h-1z M1266 263h1v1h-1z M1266 264h1v1h-1z M1266 265h1v1h-1z M1266 266h1v1h-1z M1266 267h1v1h-1z M1266 268h1v1h-1z" fill="#2a72da" stroke="none" shape-rendering="crispEdges"/>
<path d="M1267 268h1v1h-1z" fill="#2a72da" stroke="none" shape-rendering="crispEdges"/>
<path d="M1255 276h1v1h-1z M1256 275h1v1h-1z M1258 273h1v1h-1z M1259 272h1v1h-1z M1261 270h1v1h-1z M1262 269h1v1h-1z M1264 267h1v1h-1z M1265 266h1v1h-1z M1267 264h1v1h-1z M1268 263h1v1h-1z M1269 262h1v1h-1z M1270 261h1v1h-1z M1255 271h1v1h-1z M1256 270h1v1h-1z M1258 268h1v1h-1z M1259 267h1v1h-1z M1261 265h1v1h-1z M1262 264h1v1h-1z M1264 262h1v1h-1z M1265 261h1v1h-1z M1261 275h1v1h-1z M1262 274h1v1h-1z M1264 272h1v1h-1z M1265 271h1v1h-1z M1267 269h1v1h-1z M1268 268h1v1h-1z M1269 267h1v1h-1z M1270 266h1v1h-1z" fill="#0a36b0" stroke="none" shape-rendering="crispEdges"/>
<rect x="1254" y="216" width="8" height="8" fill="#f4f5fa" stroke="none" shape-rendering="crispEdges"/>
<path d="M1255 219h1v1h-1z M1255 220h1v1h-1z M1255 221h1v1h-1z M1256 219h1v1h-1z M1256 220h1v1h-1z M1256 221h1v1h-1z M1256 222h1v1h-1z M1257 219h1v1h-1z M1257 222h1v1h-1z M1258 219h1v1h-1z M1258 220h1v1h-1z M1258 221h1v1h-1z M1258 222h1v1h-1z M1259 219h1v1h-1z M1259 220h1v1h-1z M1259 221h1v1h-1z M1256 222h1v1h-1z M1258 222h1v1h-1z M1258 217h1v1h-1z M1259 217h1v1h-1z M1260 217h1v1h-1z M1260 218h1v1h-1z M1258 218h1v1h-1z" fill="#12a04a" stroke="none" shape-rendering="crispEdges"/>
<rect x="1254" y="238" width="6" height="8" fill="#f4f5fa" stroke="none" shape-rendering="crispEdges"/>
<text x="1254.8" y="245" textLength="4.4" lengthAdjust="spacingAndGlyphs" font-family="'Liberation Sans', Arial, sans-serif" font-weight="bold" font-size="8.6" fill="#000" stroke="none">E</text>
<rect x="1254" y="260" width="8" height="8" fill="#f4f5fa" stroke="none" shape-rendering="crispEdges"/>
<rect x="1255" y="261" width="6" height="1" fill="#000" stroke="none" shape-rendering="crispEdges"/><rect x="1255" y="266" width="6" height="1" fill="#000" stroke="none" shape-rendering="crispEdges"/>
<path d="M1260 294h1v1h-1z M1261 294h1v1h-1z M1262 294h1v1h-1z M1263 294h1v1h-1z M1264 294h1v1h-1z M1265 294h1v1h-1z M1258 295h1v1h-1z M1259 295h1v1h-1z M1260 295h1v1h-1z M1261 295h1v1h-1z M1262 295h1v1h-1z M1263 295h1v1h-1z M1264 295h1v1h-1z M1265 295h1v1h-1z M1266 295h1v1h-1z M1267 295h1v1h-1z M1257 296h1v1h-1z M1258 296h1v1h-1z M1259 296h1v1h-1z M1260 296h1v1h-1z M1261 296h1v1h-1z M1262 296h1v1h-1z M1263 296h1v1h-1z M1264 296h1v1h-1z M1265 296h1v1h-1z M1266 296h1v1h-1z M1267 296h1v1h-1z M1268 296h1v1h-1z M1257 297h1v1h-1z M1258 297h1v1h-1z M1259 297h1v1h-1z M1260 297h1v1h-1z M1261 297h1v1h-1z M1262 297h1v1h-1z M1263 297h1v1h-1z M1264 297h1v1h-1z M1265 297h1v1h-1z M1266 297h1v1h-1z M1267 297h1v1h-1z M1268 297h1v1h-1z M1256 298h1v1h-1z M1257 298h1v1h-1z M1258 298h1v1h-1z M1259 298h1v1h-1z M1260 298h1v1h-1z M1261 298h1v1h-1z M1262 298h1v1h-1z M1263 298h1v1h-1z M1264 298h1v1h-1z M1265 298h1v1h-1z M1266 298h1v1h-1z M1267 298h1v1h-1z M1268 298h1v1h-1z M1269 298h1v1h-1z M1256 299h1v1h-1z M1257 299h1v1h-1z M1258 299h1v1h-1z M1259 299h1v1h-1z M1260 299h1v1h-1z M1261 299h1v1h-1z M1262 299h1v1h-1z M1263 299h1v1h-1z M1264 299h1v1h-1z M1265 299h1v1h-1z M1266 299h1v1h-1z M1267 299h1v1h-1z M1268 299h1v1h-1z M1269 299h1v1h-1z M1256 300h1v1h-1z M1257 300h1v1h-1z M1258 300h1v1h-1z M1259 300h1v1h-1z M1260 300h1v1h-1z M1261 300h1v1h-1z M1262 300h1v1h-1z M1263 300h1v1h-1z M1264 300h1v1h-1z M1265 300h1v1h-1z M1266 300h1v1h-1z M1267 300h1v1h-1z M1268 300h1v1h-1z M1269 300h1v1h-1z M1255 301h1v1h-1z M1256 301h1v1h-1z M1257 301h1v1h-1z M1258 301h1v1h-1z M1259 301h1v1h-1z M1260 301h1v1h-1z M1261 301h1v1h-1z M1262 301h1v1h-1z M1263 301h1v1h-1z M1264 301h1v1h-1z M1265 301h1v1h-1z M1266 301h1v1h-1z M1267 301h1v1h-1z M1268 301h1v1h-1z M1269 301h1v1h-1z M1270 301h1v1h-1z" fill="#f6f8fc" stroke="none" shape-rendering="crispEdges"/>
<path d="M1260 293h1v1h-1z M1261 293h1v1h-1z M1262 293h1v1h-1z M1263 293h1v1h-1z M1264 293h1v1h-1z M1265 293h1v1h-1z M1258 294h1v1h-1z M1259 294h1v1h-1z M1266 294h1v1h-1z M1267 294h1v1h-1z M1257 295h1v1h-1z M1268 295h1v1h-1z M1256 296h1v1h-1z M1256 297h1v1h-1z M1269 296h1v1h-1z M1269 297h1v1h-1z M1255 298h1v1h-1z M1255 299h1v1h-1z M1255 300h1v1h-1z M1270 298h1v1h-1z M1270 299h1v1h-1z M1270 300h1v1h-1z M1261 295h1v1h-1z M1262 295h1v1h-1z M1263 295h1v1h-1z M1264 295h1v1h-1z M1259 296h1v1h-1z M1260 296h1v1h-1z M1265 296h1v1h-1z M1266 296h1v1h-1z M1258 297h1v1h-1z M1258 298h1v1h-1z M1267 297h1v1h-1z M1267 298h1v1h-1z M1257 299h1v1h-1z M1257 300h1v1h-1z M1268 299h1v1h-1z M1268 300h1v1h-1z M1261 298h1v1h-1z M1262 298h1v1h-1z M1263 298h1v1h-1z M1264 298h1v1h-1z M1260 299h1v1h-1z M1260 300h1v1h-1z M1265 299h1v1h-1z M1265 300h1v1h-1z" fill="#1440b4" stroke="none" shape-rendering="crispEdges"/>
<path d="M1262 300h1v1h-1z M1263 300h1v1h-1z" fill="#3b74dc" stroke="none" shape-rendering="crispEdges"/>
<path d="M1255 299h1v1h-1z M1255 300h1v1h-1z M1270 299h1v1h-1z M1270 300h1v1h-1z M1257 300h1v1h-1z M1268 300h1v1h-1z M1260 300h1v1h-1z M1265 300h1v1h-1z" fill="#5a86dc" stroke="none" shape-rendering="crispEdges"/>
<path d="M1256 300h1v1h-1z M1256 301h1v1h-1z M1256 302h1v1h-1z M1269 300h1v1h-1z M1269 301h1v1h-1z M1269 302h1v1h-1z M1258 299h1v1h-1z M1258 300h1v1h-1z M1258 301h1v1h-1z M1258 302h1v1h-1z M1259 299h1v1h-1z M1259 300h1v1h-1z M1259 301h1v1h-1z M1259 302h1v1h-1z M1266 299h1v1h-1z M1266 300h1v1h-1z M1266 301h1v1h-1z M1266 302h1v1h-1z M1267 299h1v1h-1z M1267 300h1v1h-1z M1267 301h1v1h-1z M1267 302h1v1h-1z M1261 301h1v1h-1z M1261 302h1v1h-1z M1264 301h1v1h-1z M1264 302h1v1h-1z M1257 298h1v1h-1z M1268 298h1v1h-1z" fill="#f0e85a" stroke="none" shape-rendering="crispEdges"/>
<path d="M1260 312h1v1h-1z M1260 313h1v1h-1z M1259 314h1v1h-1z M1259 315h1v1h-1z M1259 316h1v1h-1z M1258 317h1v1h-1z M1258 318h1v1h-1z M1258 319h1v1h-1z M1257 320h1v1h-1z M1257 321h1v1h-1z M1257 322h1v1h-1z M1265 312h1v1h-1z M1264 313h1v1h-1z M1264 314h1v1h-1z M1263 315h1v1h-1z M1262 316h1v1h-1z M1262 317h1v1h-1z M1261 318h1v1h-1z M1260 319h1v1h-1z M1260 320h1v1h-1z M1259 321h1v1h-1z M1258 322h1v1h-1z M1270 312h1v1h-1z M1269 313h1v1h-1z M1268 314h1v1h-1z M1267 315h1v1h-1z M1266 316h1v1h-1z M1265 317h1v1h-1z M1264 318h1v1h-1z M1263 319h1v1h-1z M1262 320h1v1h-1z M1261 321h1v1h-1z M1260 322h1v1h-1z M1261 323h1v1h-1z M1270 317h1v1h-1z M1269 318h1v1h-1z M1268 318h1v1h-1z M1267 319h1v1h-1z M1266 320h1v1h-1z M1265 320h1v1h-1z M1264 321h1v1h-1z M1263 322h1v1h-1z M1262 322h1v1h-1z M1261 323h1v1h-1z M1270 321h1v1h-1z M1269 321h1v1h-1z M1268 322h1v1h-1z M1267 322h1v1h-1z M1266 323h1v1h-1z M1265 323h1v1h-1z M1264 323h1v1h-1z M1263 324h1v1h-1z M1262 324h1v1h-1z M1256 323h1v1h-1z M1258 323h1v1h-1z M1259 323h1v1h-1z M1256 324h1v1h-1z M1257 324h1v1h-1z M1258 324h1v1h-1z M1259 324h1v1h-1z M1260 324h1v1h-1z M1256 325h1v1h-1z M1257 325h1v1h-1z M1258 325h1v1h-1z M1259 325h1v1h-1z M1260 325h1v1h-1z M1261 325h1v1h-1z M1255 326h1v1h-1z M1256 326h1v1h-1z M1257 326h1v1h-1z M1258 326h1v1h-1z M1255 327h1v1h-1z M1256 327h1v1h-1z M1261 311h1v1h-1z M1261 312h1v1h-1z M1260 313h1v1h-1z M1260 314h1v1h-1z M1260 315h1v1h-1z M1259 316h1v1h-1z M1259 317h1v1h-1z M1259 318h1v1h-1z M1258 319h1v1h-1z M1258 320h1v1h-1z M1258 321h1v1h-1z M1266 311h1v1h-1z M1265 312h1v1h-1z M1265 313h1v1h-1z M1264 314h1v1h-1z M1263 315h1v1h-1z M1263 316h1v1h-1z M1262 317h1v1h-1z M1261 318h1v1h-1z M1261 319h1v1h-1z M1260 320h1v1h-1z M1259 321h1v1h-1z" fill="#f6f8fc" stroke="none" shape-rendering="crispEdges"/>
<path d="M1270 320h1v1h-1z M1269 320h1v1h-1z M1268 321h1v1h-1z M1267 321h1v1h-1z M1266 322h1v1h-1z M1265 322h1v1h-1z M1264 322h1v1h-1z M1263 323h1v1h-1z M1262 323h1v1h-1z" fill="#3a80e0" stroke="none" shape-rendering="crispEdges"/>
<path d="M1270 316h1v1h-1z M1269 317h1v1h-1z M1268 317h1v1h-1z M1267 318h1v1h-1z M1266 319h1v1h-1z M1265 319h1v1h-1z M1264 320h1v1h-1z M1263 321h1v1h-1z M1262 321h1v1h-1z M1261 322h1v1h-1z" fill="#2a68d0" stroke="none" shape-rendering="crispEdges"/>
<path d="M1260 311h1v1h-1z M1260 312h1v1h-1z M1259 313h1v1h-1z M1259 314h1v1h-1z M1259 315h1v1h-1z M1258 316h1v1h-1z M1258 317h1v1h-1z M1258 318h1v1h-1z M1257 319h1v1h-1z M1257 320h1v1h-1z M1257 321h1v1h-1z M1265 311h1v1h-1z M1264 312h1v1h-1z M1264 313h1v1h-1z M1263 314h1v1h-1z M1262 315h1v1h-1z M1262 316h1v1h-1z M1261 317h1v1h-1z M1260 318h1v1h-1z M1260 319h1v1h-1z M1259 320h1v1h-1z M1258 321h1v1h-1z M1270 311h1v1h-1z M1269 312h1v1h-1z M1268 313h1v1h-1z M1267 314h1v1h-1z M1266 315h1v1h-1z M1265 316h1v1h-1z M1264 317h1v1h-1z M1263 318h1v1h-1z M1262 319h1v1h-1z M1261 320h1v1h-1z M1260 321h1v1h-1z M1261 322h1v1h-1z" fill="#0a36b0" stroke="none" shape-rendering="crispEdges"/>
<path d="M1256 322h1v1h-1z M1258 322h1v1h-1z M1259 322h1v1h-1z M1256 323h1v1h-1z M1257 323h1v1h-1z M1258 323h1v1h-1z M1259 323h1v1h-1z M1260 323h1v1h-1z M1256 324h1v1h-1z M1257 324h1v1h-1z M1258 324h1v1h-1z M1259 324h1v1h-1z M1260 324h1v1h-1z M1261 324h1v1h-1z M1255 325h1v1h-1z M1256 325h1v1h-1z M1257 325h1v1h-1z M1258 325h1v1h-1z M1255 326h1v1h-1z M1256 326h1v1h-1z" fill="#0838b0" stroke="none" shape-rendering="crispEdges"/>
<path d="M1258 390h1v1h-1z M1259 389h1v1h-1z M1260 388h1v1h-1z M1261 387h1v1h-1z M1262 386h1v1h-1z M1263 385h1v1h-1z M1264 384h1v1h-1z M1265 383h1v1h-1z M1266 382h1v1h-1z M1267 381h1v1h-1z M1268 380h1v1h-1z M1269 379h1v1h-1z" fill="#f6f8fc" stroke="none" shape-rendering="crispEdges"/>
<path d="M1257 390h1v1h-1z M1258 389h1v1h-1z M1259 388h1v1h-1z M1260 387h1v1h-1z M1261 386h1v1h-1z M1262 385h1v1h-1z M1263 384h1v1h-1z M1264 383h1v1h-1z M1265 382h1v1h-1z M1266 381h1v1h-1z M1267 380h1v1h-1z M1268 379h1v1h-1z" fill="#0a36b0" stroke="none" shape-rendering="crispEdges"/>
<path d="M1255 415h1v1h-1z M1256 415h1v1h-1z M1255 414h1v1h-1z M1256 414h1v1h-1z M1257 414h1v1h-1z M1256 413h1v1h-1z M1257 413h1v1h-1z M1258 413h1v1h-1z M1257 412h1v1h-1z M1258 412h1v1h-1z M1259 412h1v1h-1z M1260 412h1v1h-1z M1258 411h1v1h-1z M1259 411h1v1h-1z M1258 410h1v1h-1z M1265 400h1v1h-1z M1264 401h1v1h-1z M1264 402h1v1h-1z M1263 403h1v1h-1z M1262 404h1v1h-1z M1262 405h1v1h-1z M1261 406h1v1h-1z M1260 407h1v1h-1z M1260 408h1v1h-1z M1259 409h1v1h-1z M1270 400h1v1h-1z M1269 401h1v1h-1z M1268 402h1v1h-1z M1267 403h1v1h-1z M1266 404h1v1h-1z M1265 405h1v1h-1z M1264 406h1v1h-1z M1263 407h1v1h-1z M1262 408h1v1h-1z M1261 409h1v1h-1z M1260 410h1v1h-1z M1261 411h1v1h-1z M1270 405h1v1h-1z M1269 406h1v1h-1z M1268 406h1v1h-1z M1267 407h1v1h-1z M1266 408h1v1h-1z M1265 408h1v1h-1z M1264 409h1v1h-1z M1263 410h1v1h-1z M1262 410h1v1h-1z M1266 399h1v1h-1z M1265 400h1v1h-1z M1265 401h1v1h-1z M1264 402h1v1h-1z M1263 403h1v1h-1z M1263 404h1v1h-1z M1262 405h1v1h-1z M1261 406h1v1h-1z M1261 407h1v1h-1z M1260 408h1v1h-1z" fill="#f6f8fc" stroke="none" shape-rendering="crispEdges"/>
<path d="M1270 404h1v1h-1z M1269 405h1v1h-1z M1268 405h1v1h-1z M1267 406h1v1h-1z M1266 407h1v1h-1z M1265 407h1v1h-1z M1264 408h1v1h-1z M1263 409h1v1h-1z M1262 409h1v1h-1z" fill="#2a6cd4" stroke="none" shape-rendering="crispEdges"/>
<path d="M1265 399h1v1h-1z M1264 400h1v1h-1z M1264 401h1v1h-1z M1263 402h1v1h-1z M1262 403h1v1h-1z M1262 404h1v1h-1z M1261 405h1v1h-1z M1260 406h1v1h-1z M1260 407h1v1h-1z M1259 408h1v1h-1z M1270 399h1v1h-1z M1269 400h1v1h-1z M1268 401h1v1h-1z M1267 402h1v1h-1z M1266 403h1v1h-1z M1265 404h1v1h-1z M1264 405h1v1h-1z M1263 406h1v1h-1z M1262 407h1v1h-1z M1261 408h1v1h-1z M1260 409h1v1h-1z M1261 410h1v1h-1z" fill="#0a36b0" stroke="none" shape-rendering="crispEdges"/>
<path d="M1255 414h1v1h-1z M1256 414h1v1h-1z M1255 413h1v1h-1z M1256 413h1v1h-1z M1257 413h1v1h-1z M1256 412h1v1h-1z M1257 412h1v1h-1z M1258 412h1v1h-1z M1257 411h1v1h-1z M1258 411h1v1h-1z M1259 411h1v1h-1z M1260 411h1v1h-1z M1258 410h1v1h-1z M1259 410h1v1h-1z M1258 409h1v1h-1z" fill="#0432a8" stroke="none" shape-rendering="crispEdges"/>
<path d="M1256 421h1v1h-1z M1256 423h1v1h-1z M1256 427h1v1h-1z M1256 429h1v1h-1z M1256 433h1v1h-1z M1256 435h1v1h-1z M1257 422h1v1h-1z M1257 428h1v1h-1z M1257 434h1v1h-1z M1258 421h1v1h-1z M1258 423h1v1h-1z M1258 427h1v1h-1z M1258 429h1v1h-1z M1258 433h1v1h-1z M1258 435h1v1h-1z M1259 424h1v1h-1z M1259 426h1v1h-1z M1259 430h1v1h-1z M1259 432h1v1h-1z M1260 425h1v1h-1z M1260 431h1v1h-1z M1261 424h1v1h-1z M1261 426h1v1h-1z M1261 430h1v1h-1z M1261 432h1v1h-1z M1262 421h1v1h-1z M1262 423h1v1h-1z M1262 427h1v1h-1z M1262 429h1v1h-1z M1262 433h1v1h-1z M1262 435h1v1h-1z M1263 422h1v1h-1z M1263 428h1v1h-1z M1263 434h1v1h-1z M1264 421h1v1h-1z M1264 423h1v1h-1z M1264 427h1v1h-1z M1264 429h1v1h-1z M1264 433h1v1h-1z M1264 435h1v1h-1z M1265 424h1v1h-1z M1265 426h1v1h-1z M1265 430h1v1h-1z M1265 432h1v1h-1z M1266 425h1v1h-1z M1266 431h1v1h-1z M1267 424h1v1h-1z M1267 426h1v1h-1z M1267 430h1v1h-1z M1267 432h1v1h-1z M1268 421h1v1h-1z M1268 423h1v1h-1z M1268 427h1v1h-1z M1268 429h1v1h-1z M1268 433h1v1h-1z M1268 435h1v1h-1z M1269 422h1v1h-1z M1269 428h1v1h-1z M1269 434h1v1h-1z M1270 421h1v1h-1z M1270 423h1v1h-1z M1270 427h1v1h-1z M1270 429h1v1h-1z M1270 433h1v1h-1z M1270 435h1v1h-1z" fill="#f6f8fc" stroke="none" shape-rendering="crispEdges"/>
<path d="M1255 421h1v1h-1z M1255 423h1v1h-1z M1255 427h1v1h-1z M1256 422h1v1h-1z M1257 421h1v1h-1z M1257 423h1v1h-1z M1258 424h1v1h-1z M1261 421h1v1h-1z" fill="#0030a0" stroke="none" shape-rendering="crispEdges"/>
<path d="M1255 429h1v1h-1z M1255 433h1v1h-1z M1256 428h1v1h-1z M1257 427h1v1h-1z M1257 429h1v1h-1z M1258 426h1v1h-1z M1258 430h1v1h-1z M1259 425h1v1h-1z M1260 424h1v1h-1z M1260 426h1v1h-1z M1261 423h1v1h-1z M1261 427h1v1h-1z M1262 422h1v1h-1z M1263 421h1v1h-1z M1263 423h1v1h-1z M1264 424h1v1h-1z M1267 421h1v1h-1z" fill="#1344b2" stroke="none" shape-rendering="crispEdges"/>
<path d="M1255 435h1v1h-1z M1256 434h1v1h-1z M1257 433h1v1h-1z M1257 435h1v1h-1z M1258 432h1v1h-1z M1259 431h1v1h-1z M1260 430h1v1h-1z M1260 432h1v1h-1z M1261 429h1v1h-1z M1261 433h1v1h-1z M1261 435h1v1h-1z M1262 428h1v1h-1z M1262 434h1v1h-1z M1263 427h1v1h-1z M1263 429h1v1h-1z M1263 433h1v1h-1z M1264 426h1v1h-1z M1264 430h1v1h-1z M1264 432h1v1h-1z M1265 425h1v1h-1z M1265 431h1v1h-1z M1266 424h1v1h-1z M1266 426h1v1h-1z M1266 430h1v1h-1z M1267 423h1v1h-1z M1267 427h1v1h-1z M1267 429h1v1h-1z M1268 422h1v1h-1z M1268 428h1v1h-1z M1269 421h1v1h-1z M1269 423h1v1h-1z M1269 427h1v1h-1z" fill="#2659c4" stroke="none" shape-rendering="crispEdges"/>
<path d="M1263 435h1v1h-1z M1266 432h1v1h-1z M1267 433h1v1h-1z M1267 435h1v1h-1z M1268 434h1v1h-1z M1269 429h1v1h-1z M1269 433h1v1h-1z M1269 435h1v1h-1z" fill="#3a6ed6" stroke="none" shape-rendering="crispEdges"/>
<rect x="1256.5" y="452.5" width="15" height="11" fill="none" stroke="#e9e4da" stroke-width="1"/>
<rect x="1255.5" y="451.5" width="15" height="11" fill="url(#shp)" stroke="#3467d2" stroke-width="1"/>
<rect x="1255.5" y="473.5" width="15" height="10" rx="5" ry="5" fill="url(#shp)" stroke="#3467d2" stroke-width="1"/>
<rect x="1255.5" y="495.5" width="15" height="11" rx="2.5" ry="2.5" fill="url(#shp)" stroke="#3467d2" stroke-width="1"/>
<rect x="1256.5" y="518.5" width="15" height="11" fill="none" stroke="#e0dcd4" stroke-width="1"/>
<rect x="1255.5" y="517.5" width="15" height="11" fill="url(#chk)" stroke="#3467d2" stroke-width="1"/>
<rect x="1255.5" y="539.5" width="15" height="11" rx="2.5" ry="2.5" fill="url(#chk)" stroke="#3467d2" stroke-width="1"/>
<rect x="1255.5" y="561.5" width="15" height="10" rx="5" ry="5" fill="url(#chk)" stroke="#3467d2" stroke-width="1"/>
<path d="M1255 587 L1263 591 L1264 591 L1264 598 L1263 598 L1255 594 Z" fill="#dfe5fd" stroke="none" shape-rendering="crispEdges"/>
<path d="M1272 587 L1264 591 L1264 598 L1272 594 Z" fill="#c6d2fc" stroke="none" shape-rendering="crispEdges"/>
<path d="M1255 587h1v1h-1z M1255 588h1v1h-1z M1255 589h1v1h-1z M1255 590h1v1h-1z M1255 591h1v1h-1z M1255 592h1v1h-1z M1255 593h1v1h-1z M1271 587h1v1h-1z M1271 588h1v1h-1z M1271 589h1v1h-1z M1271 590h1v1h-1z M1271 591h1v1h-1z M1271 592h1v1h-1z M1271 593h1v1h-1z M1256 594h1v1h-1z M1257 594h1v1h-1z M1258 595h1v1h-1z M1259 595h1v1h-1z M1260 596h1v1h-1z M1261 596h1v1h-1z M1262 597h1v1h-1z M1263 597h1v1h-1z M1264 597h1v1h-1z M1265 596h1v1h-1z M1266 596h1v1h-1z M1267 595h1v1h-1z M1268 595h1v1h-1z M1269 594h1v1h-1z M1270 594h1v1h-1z M1263 591h1v1h-1z M1263 592h1v1h-1z M1263 593h1v1h-1z M1263 594h1v1h-1z M1263 595h1v1h-1z M1263 596h1v1h-1z M1256 587h1v1h-1z M1257 588h1v1h-1z M1258 589h1v1h-1z M1259 589h1v1h-1z M1260 590h1v1h-1z M1261 590h1v1h-1z M1262 591h1v1h-1z M1264 591h1v1h-1z M1265 590h1v1h-1z M1266 590h1v1h-1z M1267 589h1v1h-1z M1268 589h1v1h-1z M1269 588h1v1h-1z M1270 588h1v1h-1z" fill="#4c5c80" stroke="none" shape-rendering="crispEdges"/>
<path d="M1266 593h1v1h-1z M1267 593h1v1h-1z M1268 592h1v1h-1z M1269 592h1v1h-1z" fill="#3a6cf0" stroke="none" shape-rendering="crispEdges"/>
<path d="M1263 581h1v1h-1z M1264 581h1v1h-1z M1262 582h1v1h-1z M1263 582h1v1h-1z M1265 582h1v1h-1z M1266 582h1v1h-1z M1267 582h1v1h-1z M1260 583h1v1h-1z M1261 583h1v1h-1z M1264 583h1v1h-1z M1265 583h1v1h-1z M1267 583h1v1h-1z M1268 583h1v1h-1z M1269 583h1v1h-1z M1258 584h1v1h-1z M1259 584h1v1h-1z M1262 584h1v1h-1z M1263 584h1v1h-1z M1266 584h1v1h-1z M1267 584h1v1h-1z M1269 584h1v1h-1z M1258 585h1v1h-1z M1260 585h1v1h-1z M1261 585h1v1h-1z M1264 585h1v1h-1z M1265 585h1v1h-1z M1269 585h1v1h-1z M1258 586h1v1h-1z M1260 586h1v1h-1z M1262 586h1v1h-1z M1263 586h1v1h-1z M1269 586h1v1h-1z M1258 587h1v1h-1z M1260 587h1v1h-1z M1262 587h1v1h-1z M1269 587h1v1h-1z M1258 588h1v1h-1z M1260 588h1v1h-1z M1262 588h1v1h-1z M1260 589h1v1h-1z M1262 589h1v1h-1z M1262 590h1v1h-1z" fill="#c25672" stroke="none" shape-rendering="crispEdges"/>
<path d="M1264 582h1v1h-1z M1262 583h1v1h-1z M1263 583h1v1h-1z M1266 583h1v1h-1z M1260 584h1v1h-1z M1261 584h1v1h-1z M1264 584h1v1h-1z M1265 584h1v1h-1z M1259 585h1v1h-1z M1262 585h1v1h-1z M1263 585h1v1h-1z M1259 586h1v1h-1z M1261 586h1v1h-1z M1259 587h1v1h-1z M1261 587h1v1h-1z M1259 588h1v1h-1z M1261 588h1v1h-1z M1261 589h1v1h-1z" fill="#fdf6f6" stroke="none" shape-rendering="crispEdges"/>
<path d="M1268 584h1v1h-1z M1266 585h1v1h-1z M1267 585h1v1h-1z M1268 585h1v1h-1z M1264 586h1v1h-1z M1265 586h1v1h-1z M1266 586h1v1h-1z M1267 586h1v1h-1z M1268 586h1v1h-1z M1263 587h1v1h-1z M1264 587h1v1h-1z M1265 587h1v1h-1z M1266 587h1v1h-1z M1268 587h1v1h-1z M1263 588h1v1h-1z M1265 588h1v1h-1z M1266 588h1v1h-1z M1267 588h1v1h-1z M1268 588h1v1h-1z M1263 589h1v1h-1z M1264 589h1v1h-1z M1265 589h1v1h-1z M1266 589h1v1h-1z M1263 590h1v1h-1z M1264 590h1v1h-1z" fill="#f8dde0" stroke="none" shape-rendering="crispEdges"/>
<path d="M1257 586h1v1h-1z" fill="#9a2030" stroke="none" shape-rendering="crispEdges"/>
<path d="M1267 587h1v1h-1z M1264 588h1v1h-1z" fill="#4a1020" stroke="none" shape-rendering="crispEdges"/>
</g>
</svg>
</body></html>
